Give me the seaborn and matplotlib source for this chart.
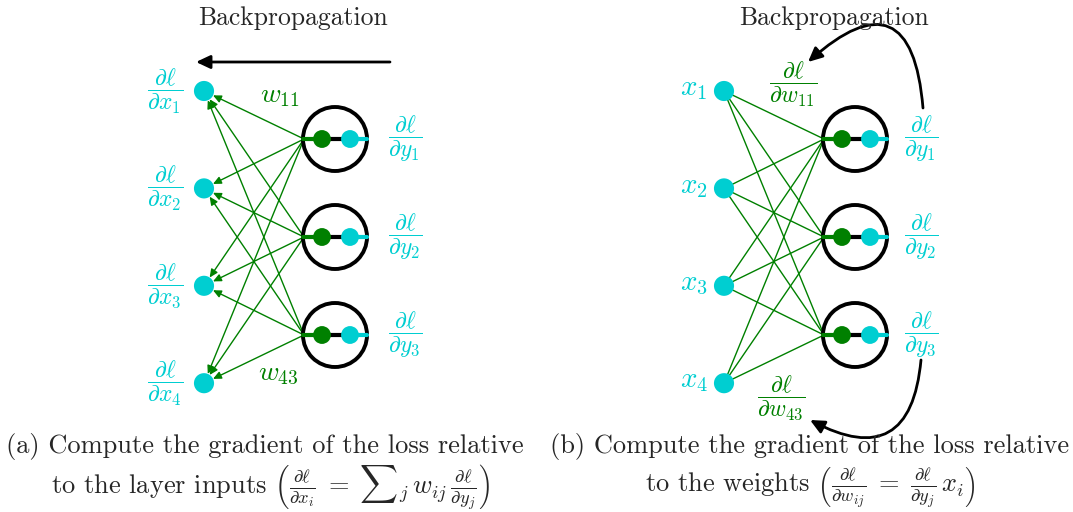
import numpy as np
import pandas as pd
import matplotlib.pyplot as plt
from matplotlib.patches import Circle, FancyArrowPatch
import seaborn as sns

# Labels / text of the diagram
title = 'Backpropagation'
grad_x_labels = [r'$\dfrac{\partial\ell}{\partial x_1}$', r'$\dfrac{\partial\ell}{\partial x_2}$',
                 r'$\dfrac{\partial\ell}{\partial x_3}$', r'$\dfrac{\partial\ell}{\partial x_4}$']
x_labels = [r'$x_1$', r'$x_2$', r'$x_3$', r'$x_4$']
grad_y_labels = [r'$\dfrac{\partial\ell}{\partial y_1}$', r'$\dfrac{\partial\ell}{\partial y_2}$',
                 r'$\dfrac{\partial\ell}{\partial y_3}$']
weight_labels_a = [r'$w_{11}$', r'$w_{43}$']
weight_labels_b = [r'$\dfrac{\partial\ell}{\partial w_{11}}$', r'$\dfrac{\partial\ell}{\partial w_{43}}$']
caption_a = ['(a) Compute the gradient of the loss relative',
             r'to the layer inputs $\left(\frac{\partial\ell}{\partial x_i} \;=\; {\sum}_j\, w_{ij}\,\frac{\partial\ell}{\partial y_j}\right)$']
caption_b = ['(b) Compute the gradient of the loss relative',
             r'to the weights $\left(\frac{\partial\ell}{\partial w_{ij}} \;=\; \frac{\partial\ell}{\partial y_j}\, x_i\right)$']

CYAN = '#00CED1'
GREEN = '#008000'

sns.set_theme(style='white')
plt.rcParams['font.family'] = ['cmr10', 'DejaVu Serif']
plt.rcParams['mathtext.fontset'] = 'cm'
plt.rcParams['axes.unicode_minus'] = False

fig = plt.figure(figsize=(10.73, 5.12), dpi=100)
ax = fig.add_axes([0, 0, 1, 1])
ax.set_xlim(0, 1073)
ax.set_ylim(512, 0)
ax.axis('off')

# layout (pixel space)
n_in, n_out = len(x_labels), len(grad_y_labels)
in_y = 91 + 97.4 * np.arange(n_in)
out_y = 139 + 98 * np.arange(n_out)
R = 32      # neuron circle radius
rn = 10     # input node radius


def draw_panel(off, backward):
    in_x = 204 + off
    cx = 335 + off
    # edges
    for i in range(n_in):
        for j in range(n_out):
            x0, y0 = cx - R + 1, out_y[j]
            if backward:
                v = np.array([x0 - in_x, y0 - in_y[i]])
                v = v / np.hypot(*v)
                x1, y1 = in_x + rn * v[0], in_y[i] + rn * v[1]
                ax.add_patch(FancyArrowPatch((x0, y0), (x1, y1),
                                             arrowstyle='-|>,head_length=0.6,head_width=0.28',
                                             mutation_scale=8, color=GREEN, lw=1.0,
                                             shrinkA=0, shrinkB=0, zorder=2))
            else:
                ax.plot([in_x, x0], [in_y[i], y0], color=GREEN, lw=1.0, zorder=2)
    # input nodes
    nodes = pd.DataFrame({'x': [in_x] * n_in, 'y': in_y})
    sns.scatterplot(data=nodes, x='x', y='y', ax=ax, s=210, color=CYAN,
                    edgecolor='none', legend=False, zorder=4)
    # neurons
    for j in range(n_out):
        ax.add_patch(Circle((cx, out_y[j]), R, fill=False, ec='black', lw=2.8, zorder=3))
        ax.plot([cx - R, cx - 13], [out_y[j]] * 2, color=GREEN, lw=3, zorder=3)
        ax.plot([cx - 13, cx + 15], [out_y[j]] * 2, color='black', lw=3, zorder=3)
        ax.plot([cx + 15, cx + R], [out_y[j]] * 2, color=CYAN, lw=3, zorder=3)
    inner = pd.DataFrame({'x': np.r_[[cx - 13] * n_out, [cx + 15] * n_out],
                          'y': np.r_[out_y, out_y],
                          'kind': ['g'] * n_out + ['c'] * n_out})
    sns.scatterplot(data=inner, x='x', y='y', hue='kind', palette={'g': GREEN, 'c': CYAN},
                    ax=ax, s=165, edgecolor='none', legend=False, zorder=4)
    # output labels
    for j in range(n_out):
        ax.text(cx + 70 - 4 * (off > 0), out_y[j], grad_y_labels[j], color=CYAN,
                fontsize=17, ha='center', va='center')
    # title
    ax.text(293 + off * 1.04, 18, title, fontsize=18.5, ha='center', va='center')


draw_panel(0, True)
draw_panel(520, False)

arrow_black = '-|>,head_length=0.85,head_width=0.4'

# panel (a) extras
for i in range(n_in):
    ax.text(165, in_y[i], grad_x_labels[i], color=CYAN, fontsize=17, ha='center', va='center')
ax.text(280, 96, weight_labels_a[0], color=GREEN, fontsize=20, ha='center', va='center')
ax.text(278, 374, weight_labels_a[1], color=GREEN, fontsize=20, ha='center', va='center')
ax.add_patch(FancyArrowPatch((390, 62), (196, 62), arrowstyle=arrow_black, mutation_scale=10,
                             color='black', lw=2, shrinkA=0, shrinkB=0))

# panel (b) extras
for i in range(n_in):
    ax.text(694, in_y[i] - 2, x_labels[i], color=CYAN, fontsize=21, ha='center', va='center')
ax.text(793, 84, weight_labels_b[0], color=GREEN, fontsize=17, ha='center', va='center')
ax.text(781, 398, weight_labels_b[1], color=GREEN, fontsize=17, ha='center', va='center')
ax.add_patch(FancyArrowPatch((923, 108), (808, 62), connectionstyle='arc3,rad=1.0',
                             arrowstyle=arrow_black, mutation_scale=10, color='black', lw=2,
                             shrinkA=0, shrinkB=0))
ax.add_patch(FancyArrowPatch((921, 360), (810, 420), connectionstyle='arc3,rad=-0.75',
                             arrowstyle=arrow_black, mutation_scale=10, color='black', lw=2,
                             shrinkA=0, shrinkB=0))

# captions
ax.text(265, 447, caption_a[0], fontsize=19, ha='center', va='center')
ax.text(270, 488, caption_a[1], fontsize=19, ha='center', va='center')
ax.text(810, 447, caption_b[0], fontsize=19, ha='center', va='center')
ax.text(810, 488, caption_b[1], fontsize=19, ha='center', va='center')

fig.savefig('out.png', dpi=100)
